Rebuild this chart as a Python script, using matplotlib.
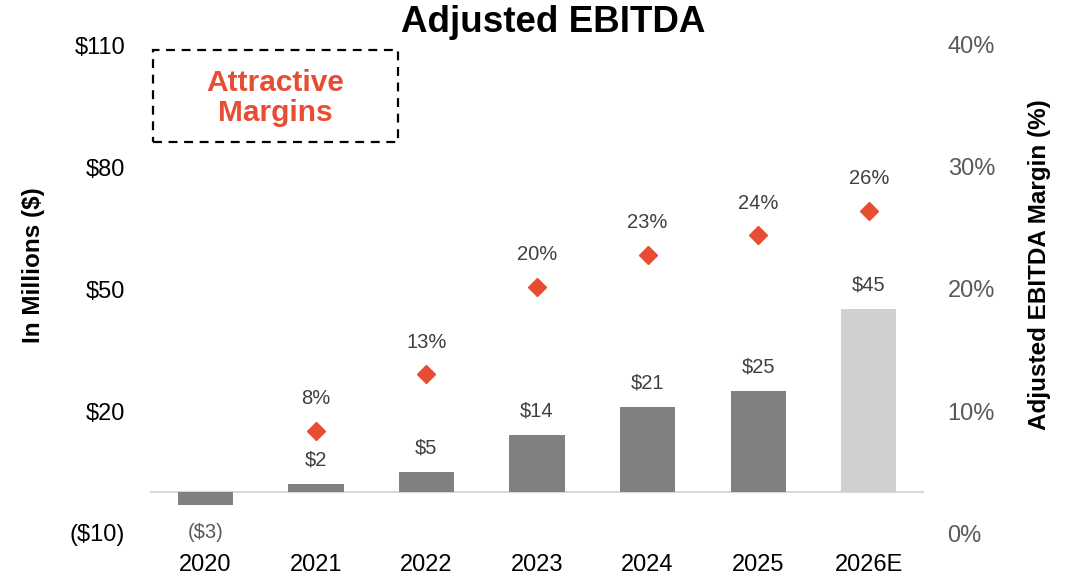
import matplotlib.pyplot as plt
from matplotlib.patches import Rectangle
import numpy as np

plt.rcParams['font.family'] = ['Liberation Sans', 'DejaVu Sans']

years = ["2020", "2021", "2022", "2023", "2024", "2025", "2026E"]
ebitda = [-3, 2, 5, 14, 21, 25, 45]
margin_years = ["2021", "2022", "2023", "2024", "2025", "2026E"]
margins = [8.4, 13.0, 20.2, 22.8, 24.4, 26.4]
left_ticks = [-10, 20, 50, 80, 110]
right_ticks = [0, 10, 20, 30, 40]

bar_color = "#808080"
forecast_color = "#d0d0d0"
red = "#e84c33"
label_color = "#404040"

fig = plt.figure(figsize=(10.74, 5.77), dpi=100)
ax = fig.add_axes([150 / 1074, 1 - 533 / 577, 774 / 1074, 488 / 577])

xs = np.arange(len(years))
colors = [forecast_color if y.endswith("E") else bar_color for y in years]
ax.bar(xs, ebitda, width=0.5, color=colors, zorder=2)
ax.axhline(0, color="#d9d9d9", lw=1.5, zorder=1)

for x, v in zip(xs, ebitda):
    if v >= 0:
        ax.annotate(f"${v}", (x, v), xytext=(0, 10.5), textcoords="offset points",
                    ha="center", va="bottom", fontsize=14.5, color=label_color)
    else:
        ax.annotate(f"(${-v})", (x, v), xytext=(0, -13), textcoords="offset points",
                    ha="center", va="top", fontsize=14.5, color="#595959")

ax.set_xlim(-0.5, len(years) - 0.5)
ax.set_ylim(-10, 110)
ax.set_yticks(left_ticks)
ax.set_yticklabels([f"(${-t})" if t < 0 else f"${t}" for t in left_ticks])
ax.set_xticks(xs)
ax.set_xticklabels(years)
ax.tick_params(axis="y", length=0, pad=18, labelsize=17, labelcolor="black")
ax.tick_params(axis="x", length=0, pad=15, labelsize=17, labelcolor="black")
for s in ax.spines.values():
    s.set_visible(False)
ax.set_ylabel("In Millions ($)", fontsize=17.5, fontweight="bold")
ax.yaxis.set_label_coords(-105 / 774, 0.548)

ax2 = ax.twinx()
ax2.set_ylim(0, 40)
ax2.set_yticks(right_ticks)
ax2.set_yticklabels([f"{t}%" for t in right_ticks])
ax2.tick_params(axis="y", length=0, pad=17, labelsize=17, labelcolor="#595959")
for s in ax2.spines.values():
    s.set_visible(False)
mx = [years.index(y) for y in margin_years]
ax2.plot(mx, margins, linestyle="none", marker="D", markersize=9.5, color=red, zorder=3)
for x, m in zip(mx, margins):
    ax2.annotate(f"{m:.0f}%", (x, m), xytext=(0, 23), textcoords="offset points",
                 ha="center", va="center", fontsize=14.5, color=label_color)
ax2.set_ylabel("Adjusted EBITDA Margin (%)", fontsize=17.5, fontweight="bold", rotation=90)
ax2.yaxis.set_label_coords((1028 - 150) / 774, 0.549)

fig.text(553 / 1074, 1 - 23 / 577, "Adjusted EBITDA", ha="center", va="center",
         fontsize=26.5, fontweight="bold")

box = Rectangle((153 / 1074, 1 - 142 / 577), 245 / 1074, 92 / 577, transform=fig.transFigure,
                fill=False, edgecolor="black", lw=1.6, linestyle=(0, (4, 3)))
fig.add_artist(box)
fig.text(275 / 1074, 1 - 98 / 577, "Attractive\nMargins", ha="center", va="center",
         fontsize=21.5, fontweight="bold", color=red, linespacing=1.1)

fig.savefig("out.png", dpi=100)
